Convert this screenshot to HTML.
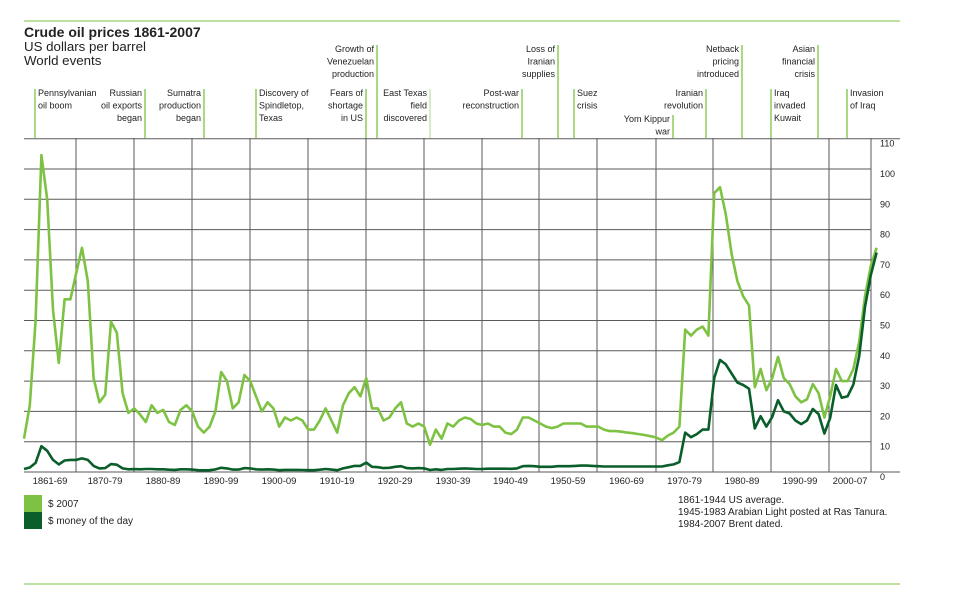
<!DOCTYPE html>
<html><head><meta charset="utf-8"><style>
html,body{margin:0;padding:0;background:#fff;}
svg{display:block;font-family:"Liberation Sans",sans-serif;}
</style></head><body>
<svg id="s" width="958" height="604" viewBox="0 0 958 604" xmlns="http://www.w3.org/2000/svg">
<line x1="24" y1="21" x2="900" y2="21" stroke="#7dc242" stroke-width="1"/>
<line x1="24" y1="584" x2="900" y2="584" stroke="#7dc242" stroke-width="1"/>
<text x="24" y="37" font-size="14" font-weight="bold" fill="#222">Crude oil prices 1861-2007</text>
<text x="24" y="51" font-size="13.3" fill="#222">US dollars per barrel</text>
<text x="24" y="65" font-size="13.3" fill="#222">World events</text>
<g id="grid" stroke="#5a5a5a" stroke-width="1"></g>
<g id="ann" font-size="9" fill="#222"></g>
<g id="xl" font-size="9.5" fill="#222" text-anchor="middle"></g>
<g id="yl" font-size="9" fill="#222"></g>
<polyline id="p1" fill="none" stroke="#7dc242" stroke-width="2.6" stroke-linejoin="round"/>
<polyline id="p2" fill="none" stroke="#0a5e2a" stroke-width="2.6" stroke-linejoin="round"/>
<rect x="24" y="495" width="18" height="17" fill="#7dc242"/>
<rect x="24" y="512" width="18" height="17" fill="#0a5e2a"/>
<text x="48" y="507" font-size="10" fill="#222">$ 2007</text>
<text x="48" y="524" font-size="10" fill="#222">$ money of the day</text>
<text x="678" y="503" font-size="10" fill="#222">1861-1944 US average.</text>
<text x="678" y="515" font-size="10" fill="#222">1945-1983 Arabian Light posted at Ras Tanura.</text>
<text x="678" y="527" font-size="10" fill="#222">1984-2007 Brent dated.</text>
</svg>
<script>
var NS="http://www.w3.org/2000/svg";
function el(p,t,a,txt){var e=document.createElementNS(NS,t);for(var k in a)e.setAttribute(k,a[k]);if(txt!=null)e.textContent=txt;document.getElementById(p).appendChild(e);return e;}
function X(y){return 24+(y-1861)*5.8;}
function Y(v){return 472-v*3.03;}
for(var i=0;i<=11;i++){var y=Y(i*10);el("grid","line",{x1:24,y1:y,x2:(i==0||i==11)?900:871,y2:y});
 el("yl","text",{x:880,y:y+8},i==0?"0":String(i*10));}
var vx=[76,134,192,250,308,366,424,482,539,597,656,713,771,829,871];
vx.forEach(function(x){el("grid","line",{x1:x,y1:138,x2:x,y2:472});});
var labs=["1861-69","1870-79","1880-89","1890-99","1900-09","1910-19","1920-29","1930-39","1940-49","1950-59","1960-69","1970-79","1980-89","1990-99","2000-07"];
var edges=[24].concat(vx);
labs.forEach(function(l,i){el("xl","text",{x:(edges[i]+edges[i+1])/2,y:484},l);});
var ann=[
[35,89,"L",["Pennsylvanian","oil boom"],"#7dc242"],
[145,89,"R",["Russian","oil exports","began"],"#7dc242"],
[204,89,"R",["Sumatra","production","began"],"#7dc242"],
[256,89,"L",["Discovery of","Spindletop,","Texas"],"#7dc242"],
[366,89,"R",["Fears of","shortage","in US"],"#7dc242"],
[377,45,"R",["Growth of","Venezuelan","production"],"#7dc242"],
[430,89,"R",["East Texas","field","discovered"],"#bfe0a8"],
[522,89,"R",["Post-war","reconstruction"],"#7dc242"],
[558,45,"R",["Loss of","Iranian","supplies"],"#7dc242"],
[574,89,"L",["Suez","crisis"],"#7dc242"],
[673,115,"R",["Yom Kippur","war"],"#7dc242"],
[706,89,"R",["Iranian","revolution"],"#7dc242"],
[742,45,"R",["Netback","pricing","introduced"],"#7dc242"],
[771,89,"L",["Iraq","invaded","Kuwait"],"#7dc242"],
[818,45,"R",["Asian","financial","crisis"],"#7dc242"],
[847,89,"L",["Invasion","of Iraq"],"#7dc242"]];
ann.forEach(function(a){el("ann","line",{x1:a[0],y1:a[1],x2:a[0],y2:138,stroke:a[4],"stroke-width":1.3});
 a[3].forEach(function(t,i){el("ann","text",{x:a[2]=="L"?a[0]+3:a[0]-3,y:a[1]+7+i*12.6,"text-anchor":a[2]=="L"?"start":"end"},t);});});
var d1=[11,22,50,104.6,90,53.5,36,57,57,65.6,74,63,31,23,25.5,49.6,46,26,19.5,21,19,16.5,22,19.5,20.5,16.5,15.5,20.5,22,20,15,13,15,20,33,30,21,23,32,30,25,20,23,21,15,18,17,18,17,14,14,17,21,17,13,22,26,28,25,31,21,21,17,18,21,23,16,15,16,15,9,14,11,16,15,17,18,17.5,16,15.5,16,15,15,13,12.5,14,18,18,17,16,15,14.5,15,16,16,16,16,15,15,15,14,13.5,13.5,13.3,13,12.8,12.5,12.2,11.8,11.4,10.5,12,13,15,47,45,47,48,45,92,94,85,72,63,58,55,28,34,27,31,38,31,29,25,23,24,29,26,18,25,34,30,30,34,43,58,68,74];
var d2=[1,1.5,3,8.5,7,4,2.5,3.8,4,4,4.5,4,2,1.2,1.3,2.6,2.4,1.2,0.9,0.95,0.9,1,1,0.9,0.9,0.75,0.7,0.9,0.9,0.8,0.6,0.55,0.6,0.85,1.4,1.2,0.8,0.8,1.3,1.2,0.9,0.8,0.9,0.8,0.6,0.7,0.7,0.7,0.65,0.6,0.6,0.75,1,0.8,0.6,1.2,1.6,2,2,3.1,1.7,1.6,1.3,1.4,1.7,1.9,1.3,1.2,1.3,1.2,0.65,0.9,0.7,1,1,1.1,1.2,1.1,1,1,1.1,1.1,1.1,1.1,1.05,1.2,1.9,2,1.9,1.7,1.7,1.7,1.9,1.9,1.9,2,2.1,2.1,2,1.9,1.8,1.8,1.8,1.8,1.8,1.8,1.8,1.8,1.8,1.8,1.8,2.2,2.5,3.3,13,11.5,12.5,14,14,31,37,35.5,32.5,29.5,28.7,27.5,14.4,18.4,15,18.2,23.7,20,19.3,17,15.8,17,20.8,19.1,12.7,17.9,28.7,24.5,25,28.9,38.3,54.5,65,72.4];
function pts(d){return d.map(function(v,i){return X(1861+i).toFixed(1)+","+Y(v).toFixed(1);}).join(" ");}
document.getElementById("p1").setAttribute("points",pts(d1));
document.getElementById("p2").setAttribute("points",pts(d2));
</script>
</body></html>
